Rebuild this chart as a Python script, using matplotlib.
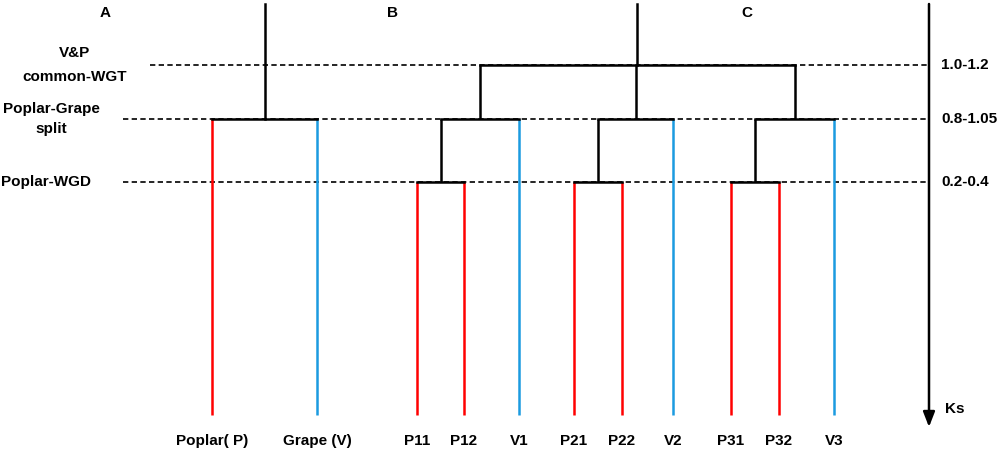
import matplotlib
matplotlib.use("Agg")
from matplotlib import pyplot as plt

# ---- data ----
leaf_labels = ["Poplar( P)", "Grape (V)", "P11", "P12", "V1", "P21", "P22", "V2", "P31", "P32", "V3"]
leaf_species = ["P", "V", "P", "P", "V", "P", "P", "V", "P", "P", "V"]
event_names = ["V&P\ncommon-WGT", "Poplar-Grape\nsplit", "Poplar-WGD"]
event_levels = ["wgt", "split", "wgd"]
ks_ranges = ["1.0-1.2", "0.8-1.05", "0.2-0.4"]
panel_labels = ["A", "B", "C"]
axis_label = "Ks"

# trees: (level, children); ints are leaf indices
tree_a = ("split", [0, 1])
tree_b = ("wgt", [("split", [("wgd", [2, 3]), 4]),
                  ("split", [("wgd", [5, 6]), 7]),
                  ("split", [("wgd", [8, 9]), 10])])
trees = [tree_a, tree_b]

# ---- layout ----
W, H = 1000, 459
leaf_x = [212, 317, 417, 464, 519, 574, 622, 673, 731, 779, 834]
level_y = {"root": 4, "wgt": 65, "split": 119, "wgd": 182, "leaf": 415}
dash_start = {"wgt": 150, "split": 123, "wgd": 123}
event_text_pos = [(75, 65, 1.85), (51, 119, 1.6), (46, 182, 1.0)]
panel_x = [105, 393, 747]
axis_x = 929
species_color = {"P": "#ff0000", "V": "#1b9be0"}
fs = 11
font = dict(family="Liberation Sans", fontweight="bold", fontsize=fs)

fig = plt.figure(figsize=(W / 100, H / 100), dpi=100)
ax = fig.add_axes([0, 0, 1, 1])
ax.set_xlim(0, W)
ax.set_ylim(H, 0)
ax.axis("off")

# dashed level lines
for lv in event_levels:
    ax.plot([dash_start[lv], axis_x], [level_y[lv]] * 2, color="black",
            lw=1.2, ls=(0, (3.2, 2.0)), zorder=1)


def draw(node):
    """draw node, return its x position"""
    if isinstance(node, int):
        return leaf_x[node]
    lv, children = node
    y = level_y[lv]
    xs = []
    for ch in children:
        cx = draw(ch)
        xs.append(cx)
        if isinstance(ch, int):
            ax.plot([cx, cx], [y, level_y["leaf"]], color=species_color[leaf_species[ch]],
                    lw=1.8, zorder=2, solid_capstyle="butt")
        else:
            ax.plot([cx, cx], [level_y[ch[0]], y], color="black", lw=1.8, zorder=3,
                    solid_capstyle="butt")
    ax.plot([xs[0], xs[-1]], [y, y], color="black", lw=1.8, zorder=3,
            solid_capstyle="projecting")
    return (xs[0] + xs[-1]) / 2


for t in trees:
    rx = draw(t)
    ax.plot([rx, rx], [level_y["root"], level_y[t[0]]], color="black", lw=1.8, zorder=3)

# Ks axis arrow
ax.annotate("", xy=(axis_x, 427), xytext=(axis_x, 4),
            arrowprops=dict(arrowstyle="-|>,head_length=0.9,head_width=0.35",
                            color="black", lw=1.8, shrinkA=0, shrinkB=0))
ax.text(945, 409, axis_label, ha="left", va="center", **font)

# texts
for name, (tx, ty, ls) in zip(event_names, event_text_pos):
    ax.text(tx, ty, name, ha="center", va="center", linespacing=ls, **font)
for rng, lv in zip(ks_ranges, event_levels):
    ax.text(941, level_y[lv], rng, ha="left", va="center", **font)
for lab, px in zip(panel_labels, panel_x):
    ax.text(px, 13, lab, ha="center", va="center", **font)
for lab, lx in zip(leaf_labels, leaf_x):
    ax.text(lx, 441, lab, ha="center", va="center", **font)

fig.savefig("out.png", dpi=100)
